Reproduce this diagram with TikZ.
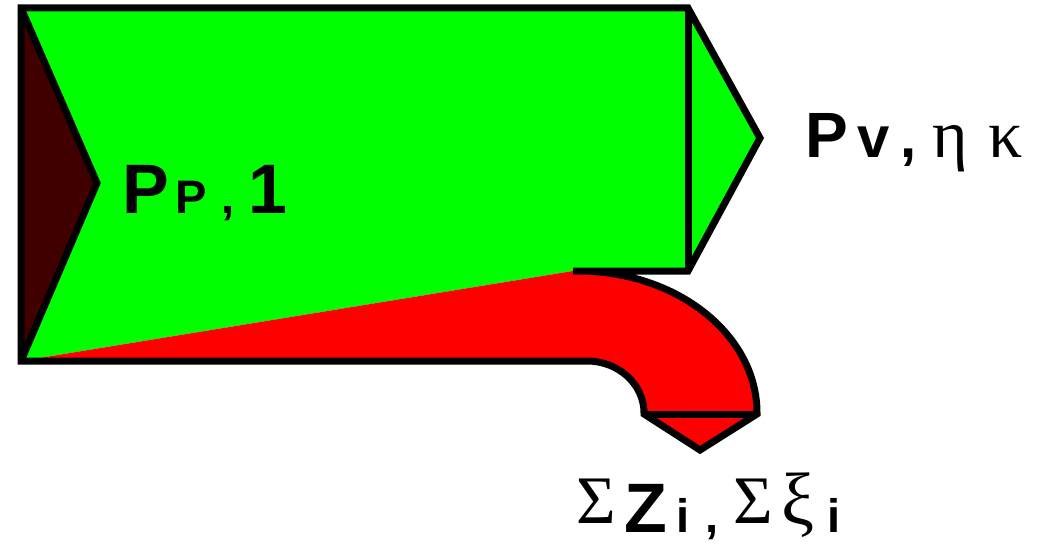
\documentclass[tikz,border=0pt]{standalone}
\usepackage{fontspec}
\setmainfont{Liberation Sans}
\newfontfamily\grk{Liberation Serif}
\definecolor{fgreen}{RGB}{0,255,0}
\definecolor{fred}{RGB}{255,0,0}
\definecolor{fdark}{RGB}{64,0,0}
\newcommand{\gl}[3]{\makebox[#1pt][c]{\fontsize{#2}{#2}\selectfont #3}}
\begin{document}
\begin{tikzpicture}[x=1pt,y=-1pt,
  outline/.style={line width=7pt,line join=miter,draw=black},
  lbl/.style={inner sep=0pt,outer sep=0pt,anchor=base west}]
\useasboundingbox (0,0) rectangle (1038,548);
\fill[white] (0,0) rectangle (1038,548);
% green body
\fill[fgreen] (21,8) -- (688,8) -- (688,271) -- (573,271) -- (21,361) -- cycle;
% red bent part
\fill[fred] (21,361) -- (573,271) -- (578,271)
  .. controls (676.9,271) and (757,334.6) .. (757,413) -- (757,414)
  -- (644,414) -- (644,413)
  .. controls (644,384.3) and (618.5,361) .. (587,361) -- cycle;
% arrow heads and dark triangle
\fill[fgreen] (688,8) -- (760,138) -- (688,271) -- cycle;
\fill[fdark] (21,8) -- (97,183) -- (21,361) -- cycle;
\fill[fred] (644,414) -- (700,450) -- (757,414) -- cycle;
% outlines
\draw[outline] (573,271) -- (688,271) -- (760,138) -- (688,8) -- (21,8) -- (21,361) -- (587,361)
  .. controls (618.5,361) and (644,384.3) .. (644,413) -- (644,414) -- (700,450) -- (757,414) -- (757,413)
  .. controls (757,334.6) and (676.9,271) .. (578,271) -- (573,271);
\draw[outline] (688,8) -- (688,271);
\draw[outline] (21,8) -- (97,183) -- (21,361);
\draw[outline] (644,414) -- (757,414);
% labels
\node[lbl] (pp) at (120,213) {\bfseries\gl{52}{70}{P}\gl{38.25}{47}{P}\gl{35.25}{47}{,}\gl{45}{70}{1}};
\node[lbl] (pv) at (800,158) {\bfseries\gl{54}{64}{P}\gl{39.5}{58}{v}\gl{30.5}{58}{,}\gl{53.5}{68}{\mdseries\grk η}\gl{55.5}{68}{\mdseries\grk κ}};
\node[lbl] (sz) at (570,532) {\bfseries\gl{52.75}{68}{\raisebox{9pt}{\mdseries\grk Σ}}\gl{46}{70}{Z}\gl{27.75}{47}{i}\gl{32}{47}{,}\gl{49.25}{68}{\raisebox{9pt}{\mdseries\grk Σ}}\gl{40.75}{74}{\raisebox{8pt}{\mdseries\grk ξ}}\gl{31.5}{47}{i}};
\end{tikzpicture}
\end{document}
